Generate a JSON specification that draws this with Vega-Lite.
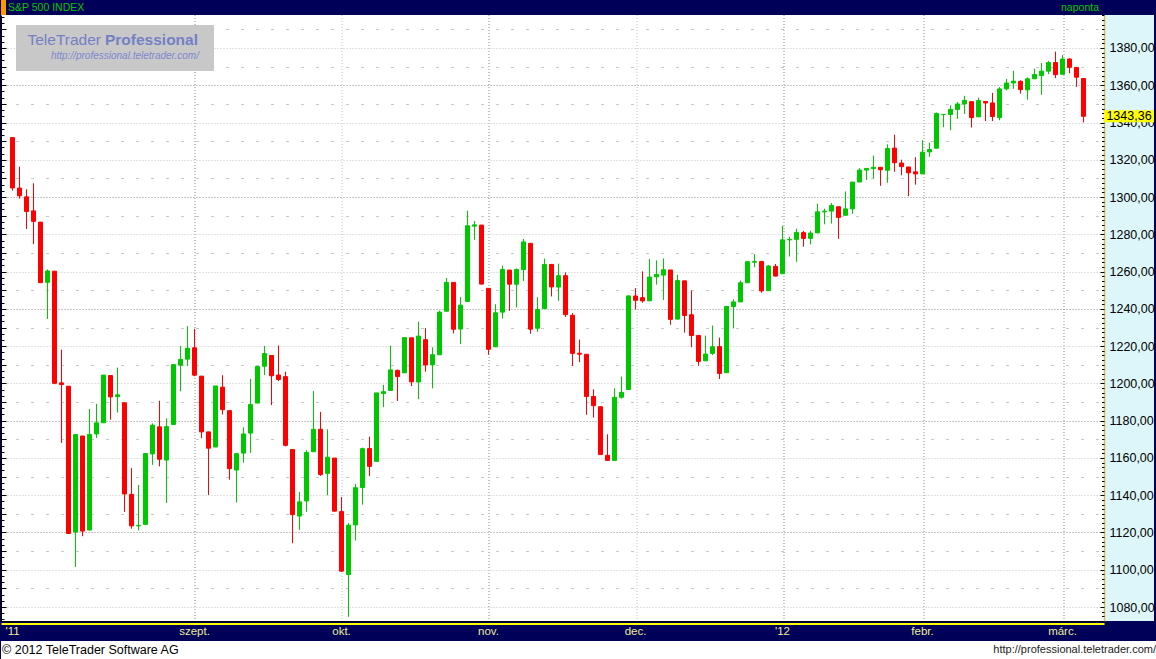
{
  "$schema": "https://vega.github.io/schema/vega-lite/v6.json",
  "usermeta": {"embedOptions": {"actions": false}},
  "background": "#000058",
  "padding": 0,
  "autosize": {"type": "pad"},
  "config": {
    "view": {"stroke": null},
    "font": "Liberation Sans",
    "locale": {"number": {"decimal": ",", "thousands": ".", "grouping": [3], "currency": ["", ""]}}
  },
  "datasets": {
    "ohlc": [
      {"i":0,"d":"2011-07-27","o":1331.91,"h":1331.91,"l":1303.49,"c":1304.89},
      {"i":1,"d":"2011-07-28","o":1304.84,"h":1316.32,"l":1299.16,"c":1300.67},
      {"i":2,"d":"2011-07-29","o":1300.12,"h":1304.16,"l":1282.86,"c":1292.28},
      {"i":3,"d":"2011-08-01","o":1292.59,"h":1307.38,"l":1274.73,"c":1286.94},
      {"i":4,"d":"2011-08-02","o":1286.56,"h":1286.58,"l":1254.03,"c":1254.05},
      {"i":5,"d":"2011-08-03","o":1254.25,"h":1261.2,"l":1234.56,"c":1260.34},
      {"i":6,"d":"2011-08-04","o":1260.23,"h":1260.23,"l":1199.54,"c":1200.07},
      {"i":7,"d":"2011-08-05","o":1200.28,"h":1218.11,"l":1168.09,"c":1199.38},
      {"i":8,"d":"2011-08-08","o":1198.48,"h":1198.48,"l":1119.28,"c":1119.46},
      {"i":9,"d":"2011-08-09","o":1120.23,"h":1172.88,"l":1101.54,"c":1172.53},
      {"i":10,"d":"2011-08-10","o":1171.77,"h":1171.77,"l":1118.01,"c":1120.76},
      {"i":11,"d":"2011-08-11","o":1121.3,"h":1186.29,"l":1121.3,"c":1172.64},
      {"i":12,"d":"2011-08-12","o":1172.87,"h":1189.04,"l":1170.74,"c":1178.81},
      {"i":13,"d":"2011-08-15","o":1178.86,"h":1204.49,"l":1178.86,"c":1204.49},
      {"i":14,"d":"2011-08-16","o":1204.22,"h":1204.22,"l":1180.53,"c":1192.76},
      {"i":15,"d":"2011-08-17","o":1192.89,"h":1208.47,"l":1184.36,"c":1193.89},
      {"i":16,"d":"2011-08-18","o":1189.62,"h":1189.62,"l":1131.03,"c":1140.65},
      {"i":17,"d":"2011-08-19","o":1140.47,"h":1154.54,"l":1122.05,"c":1123.53},
      {"i":18,"d":"2011-08-22","o":1123.55,"h":1145.49,"l":1121.09,"c":1123.82},
      {"i":19,"d":"2011-08-23","o":1124.36,"h":1162.35,"l":1124.36,"c":1162.35},
      {"i":20,"d":"2011-08-24","o":1162.16,"h":1178.56,"l":1156.3,"c":1177.6},
      {"i":21,"d":"2011-08-25","o":1176.69,"h":1190.68,"l":1155.47,"c":1159.27},
      {"i":22,"d":"2011-08-26","o":1158.85,"h":1181.23,"l":1135.91,"c":1176.8},
      {"i":23,"d":"2011-08-29","o":1177.91,"h":1210.08,"l":1177.91,"c":1210.08},
      {"i":24,"d":"2011-08-30","o":1209.76,"h":1220.1,"l":1195.77,"c":1212.92},
      {"i":25,"d":"2011-08-31","o":1213.0,"h":1230.71,"l":1209.35,"c":1218.89},
      {"i":26,"d":"2011-09-01","o":1219.12,"h":1229.29,"l":1203.85,"c":1204.42},
      {"i":27,"d":"2011-09-02","o":1203.9,"h":1203.9,"l":1170.56,"c":1173.97},
      {"i":28,"d":"2011-09-06","o":1173.97,"h":1173.97,"l":1140.13,"c":1165.24},
      {"i":29,"d":"2011-09-07","o":1165.85,"h":1198.62,"l":1165.85,"c":1198.62},
      {"i":30,"d":"2011-09-08","o":1197.98,"h":1204.4,"l":1183.34,"c":1185.9},
      {"i":31,"d":"2011-09-09","o":1185.37,"h":1185.37,"l":1148.37,"c":1154.23},
      {"i":32,"d":"2011-09-12","o":1153.5,"h":1162.52,"l":1136.07,"c":1162.27},
      {"i":33,"d":"2011-09-13","o":1162.59,"h":1176.41,"l":1157.44,"c":1172.87},
      {"i":34,"d":"2011-09-14","o":1173.32,"h":1202.38,"l":1162.73,"c":1188.68},
      {"i":35,"d":"2011-09-15","o":1189.44,"h":1209.11,"l":1189.44,"c":1209.11},
      {"i":36,"d":"2011-09-16","o":1209.21,"h":1220.06,"l":1204.46,"c":1216.01},
      {"i":37,"d":"2011-09-19","o":1214.99,"h":1214.99,"l":1188.36,"c":1204.09},
      {"i":38,"d":"2011-09-20","o":1204.5,"h":1220.39,"l":1201.29,"c":1202.09},
      {"i":39,"d":"2011-09-21","o":1203.63,"h":1206.3,"l":1166.21,"c":1166.76},
      {"i":40,"d":"2011-09-22","o":1164.55,"h":1164.55,"l":1114.22,"c":1129.56},
      {"i":41,"d":"2011-09-23","o":1128.82,"h":1141.72,"l":1121.36,"c":1136.43},
      {"i":42,"d":"2011-09-26","o":1136.91,"h":1164.19,"l":1131.07,"c":1162.95},
      {"i":43,"d":"2011-09-27","o":1163.32,"h":1195.86,"l":1163.32,"c":1175.38},
      {"i":44,"d":"2011-09-28","o":1175.39,"h":1184.71,"l":1150.4,"c":1151.06},
      {"i":45,"d":"2011-09-29","o":1151.74,"h":1175.31,"l":1139.93,"c":1160.4},
      {"i":46,"d":"2011-09-30","o":1159.93,"h":1159.93,"l":1131.34,"c":1131.42},
      {"i":47,"d":"2011-10-03","o":1131.21,"h":1138.99,"l":1098.92,"c":1099.23},
      {"i":48,"d":"2011-10-04","o":1097.42,"h":1125.12,"l":1074.77,"c":1123.95},
      {"i":49,"d":"2011-10-05","o":1124.03,"h":1146.07,"l":1115.68,"c":1144.03},
      {"i":50,"d":"2011-10-06","o":1144.11,"h":1165.55,"l":1134.95,"c":1164.97},
      {"i":51,"d":"2011-10-07","o":1165.03,"h":1171.4,"l":1150.26,"c":1155.46},
      {"i":52,"d":"2011-10-10","o":1158.15,"h":1194.91,"l":1158.15,"c":1194.89},
      {"i":53,"d":"2011-10-11","o":1194.6,"h":1199.24,"l":1187.3,"c":1195.54},
      {"i":54,"d":"2011-10-12","o":1196.19,"h":1220.25,"l":1196.19,"c":1207.25},
      {"i":55,"d":"2011-10-13","o":1206.96,"h":1207.46,"l":1190.58,"c":1203.66},
      {"i":56,"d":"2011-10-14","o":1205.65,"h":1224.61,"l":1205.65,"c":1224.58},
      {"i":57,"d":"2011-10-17","o":1224.47,"h":1224.47,"l":1198.55,"c":1200.86},
      {"i":58,"d":"2011-10-18","o":1200.75,"h":1233.1,"l":1191.48,"c":1225.38},
      {"i":59,"d":"2011-10-19","o":1223.46,"h":1229.64,"l":1206.31,"c":1209.88},
      {"i":60,"d":"2011-10-20","o":1209.92,"h":1219.36,"l":1197.34,"c":1215.39},
      {"i":61,"d":"2011-10-21","o":1215.39,"h":1239.03,"l":1215.39,"c":1238.25},
      {"i":62,"d":"2011-10-24","o":1238.72,"h":1256.55,"l":1238.72,"c":1254.19},
      {"i":63,"d":"2011-10-25","o":1254.19,"h":1254.19,"l":1226.79,"c":1229.05},
      {"i":64,"d":"2011-10-26","o":1229.17,"h":1246.28,"l":1221.06,"c":1242.0},
      {"i":65,"d":"2011-10-27","o":1243.97,"h":1292.66,"l":1243.97,"c":1284.59},
      {"i":66,"d":"2011-10-28","o":1284.39,"h":1287.08,"l":1277.01,"c":1285.09},
      {"i":67,"d":"2011-10-31","o":1284.96,"h":1284.96,"l":1253.16,"c":1253.3},
      {"i":68,"d":"2011-11-01","o":1251.0,"h":1251.0,"l":1215.42,"c":1218.28},
      {"i":69,"d":"2011-11-02","o":1219.62,"h":1242.48,"l":1219.62,"c":1237.9},
      {"i":70,"d":"2011-11-03","o":1238.25,"h":1263.21,"l":1234.81,"c":1261.15},
      {"i":71,"d":"2011-11-04","o":1260.82,"h":1260.82,"l":1238.92,"c":1253.23},
      {"i":72,"d":"2011-11-07","o":1253.21,"h":1261.7,"l":1240.75,"c":1261.12},
      {"i":73,"d":"2011-11-08","o":1261.12,"h":1277.55,"l":1254.99,"c":1275.92},
      {"i":74,"d":"2011-11-09","o":1275.18,"h":1275.18,"l":1226.64,"c":1229.1},
      {"i":75,"d":"2011-11-10","o":1229.59,"h":1246.22,"l":1227.7,"c":1239.69},
      {"i":76,"d":"2011-11-11","o":1240.12,"h":1266.98,"l":1240.12,"c":1263.85},
      {"i":77,"d":"2011-11-14","o":1263.85,"h":1263.85,"l":1246.68,"c":1251.78},
      {"i":78,"d":"2011-11-15","o":1251.7,"h":1264.25,"l":1244.34,"c":1257.81},
      {"i":79,"d":"2011-11-16","o":1257.81,"h":1259.61,"l":1235.67,"c":1236.91},
      {"i":80,"d":"2011-11-17","o":1236.56,"h":1237.73,"l":1209.43,"c":1216.13},
      {"i":81,"d":"2011-11-18","o":1216.19,"h":1223.51,"l":1211.36,"c":1215.65},
      {"i":82,"d":"2011-11-21","o":1215.62,"h":1215.62,"l":1183.16,"c":1192.98},
      {"i":83,"d":"2011-11-22","o":1192.98,"h":1196.81,"l":1181.65,"c":1188.04},
      {"i":84,"d":"2011-11-23","o":1187.48,"h":1187.48,"l":1161.79,"c":1161.79},
      {"i":85,"d":"2011-11-25","o":1161.41,"h":1172.66,"l":1158.66,"c":1158.67},
      {"i":86,"d":"2011-11-28","o":1158.67,"h":1197.35,"l":1158.67,"c":1192.55},
      {"i":87,"d":"2011-11-29","o":1192.56,"h":1203.67,"l":1191.8,"c":1195.19},
      {"i":88,"d":"2011-11-30","o":1196.72,"h":1247.11,"l":1196.72,"c":1246.96},
      {"i":89,"d":"2011-12-01","o":1246.91,"h":1251.09,"l":1239.73,"c":1244.58},
      {"i":90,"d":"2011-12-02","o":1246.03,"h":1260.08,"l":1243.35,"c":1244.28},
      {"i":91,"d":"2011-12-05","o":1244.33,"h":1266.73,"l":1244.33,"c":1257.08},
      {"i":92,"d":"2011-12-06","o":1257.19,"h":1266.03,"l":1253.03,"c":1258.47},
      {"i":93,"d":"2011-12-07","o":1258.14,"h":1267.06,"l":1244.8,"c":1261.01},
      {"i":94,"d":"2011-12-08","o":1260.87,"h":1260.87,"l":1231.47,"c":1234.35},
      {"i":95,"d":"2011-12-09","o":1234.48,"h":1258.25,"l":1234.48,"c":1255.19},
      {"i":96,"d":"2011-12-12","o":1255.05,"h":1255.05,"l":1227.25,"c":1236.47},
      {"i":97,"d":"2011-12-13","o":1236.83,"h":1249.86,"l":1219.43,"c":1225.73},
      {"i":98,"d":"2011-12-14","o":1225.73,"h":1225.73,"l":1209.47,"c":1211.82},
      {"i":99,"d":"2011-12-15","o":1212.12,"h":1225.6,"l":1212.12,"c":1215.75},
      {"i":100,"d":"2011-12-16","o":1216.09,"h":1231.04,"l":1215.2,"c":1219.66},
      {"i":101,"d":"2011-12-19","o":1219.74,"h":1224.57,"l":1202.37,"c":1205.35},
      {"i":102,"d":"2011-12-20","o":1205.72,"h":1241.59,"l":1205.72,"c":1241.3},
      {"i":103,"d":"2011-12-21","o":1241.25,"h":1245.09,"l":1229.51,"c":1243.72},
      {"i":104,"d":"2011-12-22","o":1243.72,"h":1255.22,"l":1243.72,"c":1254.0},
      {"i":105,"d":"2011-12-23","o":1254.0,"h":1265.42,"l":1254.0,"c":1265.33},
      {"i":106,"d":"2011-12-27","o":1265.02,"h":1269.37,"l":1262.3,"c":1265.43},
      {"i":107,"d":"2011-12-28","o":1265.38,"h":1265.85,"l":1248.64,"c":1249.64},
      {"i":108,"d":"2011-12-29","o":1249.75,"h":1263.54,"l":1249.75,"c":1263.02},
      {"i":109,"d":"2011-12-30","o":1262.82,"h":1264.12,"l":1257.46,"c":1257.6},
      {"i":110,"d":"2012-01-03","o":1258.86,"h":1284.62,"l":1258.86,"c":1277.06},
      {"i":111,"d":"2012-01-04","o":1277.03,"h":1278.73,"l":1268.1,"c":1277.3},
      {"i":112,"d":"2012-01-05","o":1277.3,"h":1283.05,"l":1265.26,"c":1281.06},
      {"i":113,"d":"2012-01-06","o":1280.93,"h":1281.84,"l":1273.34,"c":1277.81},
      {"i":114,"d":"2012-01-09","o":1277.83,"h":1281.99,"l":1274.55,"c":1280.7},
      {"i":115,"d":"2012-01-10","o":1280.77,"h":1296.46,"l":1280.77,"c":1292.08},
      {"i":116,"d":"2012-01-11","o":1292.02,"h":1293.8,"l":1285.41,"c":1292.48},
      {"i":117,"d":"2012-01-12","o":1292.48,"h":1296.82,"l":1285.77,"c":1295.5},
      {"i":118,"d":"2012-01-13","o":1294.82,"h":1294.82,"l":1277.58,"c":1289.09},
      {"i":119,"d":"2012-01-17","o":1290.22,"h":1303.0,"l":1290.22,"c":1293.67},
      {"i":120,"d":"2012-01-18","o":1293.65,"h":1308.11,"l":1290.99,"c":1308.04},
      {"i":121,"d":"2012-01-19","o":1308.07,"h":1315.49,"l":1308.07,"c":1314.5},
      {"i":122,"d":"2012-01-20","o":1314.49,"h":1315.38,"l":1309.17,"c":1315.38},
      {"i":123,"d":"2012-01-23","o":1315.29,"h":1322.28,"l":1309.89,"c":1316.0},
      {"i":124,"d":"2012-01-24","o":1315.96,"h":1315.96,"l":1306.06,"c":1314.65},
      {"i":125,"d":"2012-01-25","o":1314.4,"h":1328.3,"l":1307.65,"c":1326.06},
      {"i":126,"d":"2012-01-26","o":1326.28,"h":1333.47,"l":1313.6,"c":1318.43},
      {"i":127,"d":"2012-01-27","o":1318.25,"h":1320.06,"l":1311.72,"c":1316.33},
      {"i":128,"d":"2012-01-30","o":1316.16,"h":1316.16,"l":1300.49,"c":1313.01},
      {"i":129,"d":"2012-01-31","o":1313.53,"h":1321.41,"l":1306.69,"c":1312.41},
      {"i":130,"d":"2012-02-01","o":1312.45,"h":1330.52,"l":1312.45,"c":1324.09},
      {"i":131,"d":"2012-02-02","o":1324.24,"h":1329.19,"l":1321.57,"c":1325.54},
      {"i":132,"d":"2012-02-03","o":1326.21,"h":1345.34,"l":1326.21,"c":1344.9},
      {"i":133,"d":"2012-02-06","o":1344.32,"h":1344.36,"l":1337.52,"c":1344.33},
      {"i":134,"d":"2012-02-07","o":1344.33,"h":1349.24,"l":1335.92,"c":1347.05},
      {"i":135,"d":"2012-02-08","o":1347.04,"h":1351.0,"l":1341.95,"c":1349.96},
      {"i":136,"d":"2012-02-09","o":1349.97,"h":1354.32,"l":1344.63,"c":1351.95},
      {"i":137,"d":"2012-02-10","o":1351.21,"h":1351.21,"l":1337.35,"c":1342.64},
      {"i":138,"d":"2012-02-13","o":1343.06,"h":1353.35,"l":1343.06,"c":1351.77},
      {"i":139,"d":"2012-02-14","o":1351.3,"h":1351.3,"l":1340.83,"c":1350.5},
      {"i":140,"d":"2012-02-15","o":1350.52,"h":1355.87,"l":1340.8,"c":1343.23},
      {"i":141,"d":"2012-02-16","o":1342.61,"h":1359.02,"l":1341.22,"c":1358.04},
      {"i":142,"d":"2012-02-17","o":1358.06,"h":1363.4,"l":1357.24,"c":1361.23},
      {"i":143,"d":"2012-02-21","o":1361.22,"h":1367.76,"l":1358.11,"c":1362.21},
      {"i":144,"d":"2012-02-22","o":1362.11,"h":1362.7,"l":1355.53,"c":1357.66},
      {"i":145,"d":"2012-02-23","o":1357.53,"h":1364.24,"l":1352.28,"c":1363.46},
      {"i":146,"d":"2012-02-24","o":1363.46,"h":1368.92,"l":1363.46,"c":1365.74},
      {"i":147,"d":"2012-02-27","o":1365.2,"h":1371.94,"l":1354.92,"c":1367.59},
      {"i":148,"d":"2012-02-28","o":1367.56,"h":1373.09,"l":1365.97,"c":1372.18},
      {"i":149,"d":"2012-02-29","o":1372.2,"h":1378.04,"l":1363.81,"c":1365.68},
      {"i":150,"d":"2012-03-01","o":1365.9,"h":1376.17,"l":1365.9,"c":1374.09},
      {"i":151,"d":"2012-03-02","o":1374.09,"h":1374.53,"l":1366.42,"c":1369.63},
      {"i":152,"d":"2012-03-05","o":1369.59,"h":1369.59,"l":1359.13,"c":1364.33},
      {"i":153,"d":"2012-03-06","o":1363.63,"h":1363.63,"l":1340.03,"c":1343.36}
    ],
    "months": [
      {"i":0,"m":"'11"},{"i":26,"m":"szept."},{"i":47,"m":"okt."},{"i":68,"m":"nov."},
      {"i":89,"m":"dec."},{"i":110,"m":"'12"},{"i":130,"m":"febr."},{"i":150,"m":"márc."}
    ]
  },
  "columns": 2,
  "spacing": 0,
  "bounds": "flush",
  "align": "each",
  "concat": [
    {
      "width": 1103, "height": 15,
      "layer": [
        {
          "data": {"values": [{"t": "S&P 500 INDEX"}]},
          "mark": {"type": "text", "align": "left", "baseline": "middle", "dx": 7, "fontSize": 10.5, "color": "#00c800"},
          "encoding": {
            "x": {"datum": 0, "type": "quantitative", "scale": {"domain": [0, 1], "nice": false, "zero": false}, "axis": null},
            "y": {"datum": 0, "type": "quantitative", "scale": {"domain": [-1, 1], "nice": false},
                  "axis": {"orient": "left", "domain": true, "domainColor": "#ff9900", "domainWidth": 5, "offset": -2.5, "translate": 0, "ticks": false, "labels": false, "grid": false, "title": null}},
            "text": {"field": "t"}
          }
        },
        {
          "data": {"values": [{"t": "naponta"}]},
          "mark": {"type": "text", "align": "right", "baseline": "middle", "dx": -5, "fontSize": 10.5, "color": "#00c800"},
          "encoding": {
            "x": {"datum": 1, "type": "quantitative", "axis": null},
            "y": {"datum": 0, "type": "quantitative", "axis": null},
            "text": {"field": "t"}
          }
        }
      ],
      "resolve": {"axis": {"y": "independent"}}
    },
    {
      "width": 53, "height": 15,
      "data": {"values": [{"t": ""}]},
      "mark": {"type": "text"},
      "encoding": {
        "x": {"datum": 0, "type": "quantitative", "scale": {"domain": [0, 1]}, "axis": null},
        "y": {"datum": 0, "type": "quantitative", "scale": {"domain": [0, 1]}, "axis": null},
        "text": {"field": "t"}
      }
    },
    {
      "width": 1103, "height": 606,
      "view": {"fill": "white"},
      "layer": [
        {
          "data": {"values": [{"x1": 0.5, "x2": 28.79, "y1": 1392.34, "y2": 1367.66}]},
          "mark": {"type": "rect", "fill": "#c8c8c8"},
          "encoding": {
            "x": {"field": "x1", "type": "quantitative", "scale": {"domain": [-1.642857, 155.928571], "nice": false, "zero": false, "padding": 0}, "axis": null},
            "x2": {"field": "x2"},
            "y": {"field": "y1", "type": "quantitative", "scale": {"domain": [1072.487, 1397.71], "nice": false, "zero": false, "padding": 0}, "axis": null},
            "y2": {"field": "y2"}
          }
        },
        {
          "data": {"values": [{"t": "TeleTrader", "i": 12.64, "p": 1384.3}]},
          "mark": {"type": "text", "align": "right", "baseline": "middle", "fontSize": 15.5, "color": "#7480c4"},
          "encoding": {
            "x": {"field": "i", "type": "quantitative", "axis": null},
            "y": {"field": "p", "type": "quantitative",
                  "axis": {"orient": "left", "values": [1080,1090,1100,1110,1120,1130,1140,1150,1160,1170,1180,1190,1200,1210,1220,1230,1240,1250,1260,1270,1280,1290,1300,1310,1320,1330,1340,1350,1360,1370,1380,1390],
                           "domain": false, "ticks": true, "tickSize": -5, "tickColor": "black", "labels": false, "grid": false, "title": null}},
            "text": {"field": "t"}
          }
        },
        {
          "data": {"values": [{"t": "Professional", "i": 13.21, "p": 1384.3}]},
          "mark": {"type": "text", "align": "left", "baseline": "middle", "fontSize": 15.5, "fontWeight": "bold", "color": "#7480c4"},
          "encoding": {
            "x": {"field": "i", "type": "quantitative", "axis": null},
            "y": {"field": "p", "type": "quantitative",
                  "axis": {"orient": "left", "values": [1073.33,1076.67,1080,1083.33,1086.67,1090,1093.33,1096.67,1100,1103.33,1106.67,1110,1113.33,1116.67,1120,1123.33,1126.67,1130,1133.33,1136.67,1140,1143.33,1146.67,1150,1153.33,1156.67,1160,1163.33,1166.67,1170,1173.33,1176.67,1180,1183.33,1186.67,1190,1193.33,1196.67,1200,1203.33,1206.67,1210,1213.33,1216.67,1220,1223.33,1226.67,1230,1233.33,1236.67,1240,1243.33,1246.67,1250,1253.33,1256.67,1260,1263.33,1266.67,1270,1273.33,1276.67,1280,1283.33,1286.67,1290,1293.33,1296.67,1300,1303.33,1306.67,1310,1313.33,1316.67,1320,1323.33,1326.67,1330,1333.33,1336.67,1340,1343.33,1346.67,1350,1353.33,1356.67,1360,1363.33,1366.67,1370,1373.33,1376.67,1380,1383.33,1386.67,1390,1393.33,1396.67],
                           "domain": true, "domainColor": "black", "domainWidth": 1, "ticks": true, "tickSize": -3, "tickColor": "black", "labels": false, "grid": false, "title": null}},
            "text": {"field": "t"}
          }
        },
        {
          "data": {"values": [{"t": "http://professional.teletrader.com/", "i": 26.64, "p": 1375.7}]},
          "mark": {"type": "text", "align": "right", "baseline": "middle", "fontSize": 10, "fontStyle": "italic", "color": "#7c88cc"},
          "encoding": {
            "x": {"field": "i", "type": "quantitative", "axis": null},
            "y": {"field": "p", "type": "quantitative", "axis": null},
            "text": {"field": "t"}
          }
        },
        {
          "data": {"name": "ohlc"},
          "mark": {"type": "rule", "strokeWidth": 1},
          "encoding": {
            "x": {"field": "i", "type": "quantitative", "scale": {"domain": [-1.642857, 155.928571], "nice": false, "zero": false, "padding": 0},
                  "axis": {"orient": "bottom", "values": [26.142857, 47.142857, 68.142857, 89.142857, 110.142857, 130.142857, 150.142857],
                           "translate": 0, "offset": 0.5, "grid": true, "gridDash": [1, 2],
                           "gridColor": {"condition": {"test": "floor(datum.value) == 47 || floor(datum.value) == 89", "value": "#c4c4c4"}, "value": "#8c8c8c"},
                           "domain": true, "domainColor": "black", "domainWidth": 1, "ticks": false, "labels": false, "title": null}},
            "y": {"field": "l", "type": "quantitative", "scale": {"domain": [1072.487, 1397.71], "nice": false, "zero": false, "padding": 0},
                  "axis": {"orient": "left", "values": [1080,1100,1120,1140,1160,1180,1200,1220,1240,1260,1280,1300,1320,1340,1360,1380],
                           "grid": true, "gridDash": [1, 2],
                           "gridColor": {"condition": {"test": "datum.value % 60 == 40", "value": "#8c8c8c"}, "value": "#c4c4c4"},
                           "domain": false, "ticks": false, "labels": false, "title": null}},
            "y2": {"field": "h"},
            "color": {"condition": {"test": "datum.c >= datum.o", "value": "#00c800"}, "value": "#ff0000"}
          }
        },
        {
          "data": {"name": "ohlc"},
          "mark": {"type": "bar", "width": 4, "strokeWidth": 1},
          "encoding": {
            "x": {"field": "i", "type": "quantitative", "axis": null},
            "y": {"field": "o", "type": "quantitative",
                  "axis": {"orient": "left", "values": [1090,1110,1130,1150,1170,1190,1210,1230,1250,1270,1290,1310,1330,1350,1370,1390],
                           "grid": true, "gridDash": [3, 12], "gridDashOffset": 0.5, "gridColor": "#c8c8c8",
                           "domain": false, "ticks": false, "labels": false, "title": null}},
            "y2": {"field": "c"},
            "fill": {"condition": {"test": "datum.c >= datum.o", "value": "#00c800"}, "value": "#ff0000"},
            "stroke": {"condition": {"test": "datum.c >= datum.o", "value": "#00c800"}, "value": "#ff0000"}
          }
        }
      ],
      "resolve": {"axis": {"x": "independent", "y": "independent"}}
    },
    {
      "width": 50, "height": 606,
      "view": {"fill": "#ddf6fa"},
      "data": {"name": "ohlc"},
      "transform": [{"filter": "datum.i == 153"}],
      "layer": [
        {
          "mark": {"type": "tick", "orient": "horizontal", "thickness": 12, "size": 50, "color": "#ffff00", "opacity": 1},
          "encoding": {
            "x": {"datum": 0.5, "type": "quantitative", "scale": {"domain": [0, 1], "nice": false, "zero": false, "padding": 0}, "axis": null},
            "y": {"field": "c", "type": "quantitative", "scale": {"domain": [1072.487, 1397.71], "nice": false, "zero": false, "padding": 0},
                  "axis": {"orient": "left", "values": [1080,1100,1120,1140,1160,1180,1200,1220,1240,1260,1280,1300,1320,1340,1360,1380],
                           "format": ".2f", "labelAlign": "left", "labelBaseline": "middle", "labelPadding": -9, "labelFontSize": 12.5, "labelColor": "black",
                           "labelOverlap": false, "labelFlush": false,
                           "ticks": true, "tickSize": 4, "tickColor": "black",
                           "domain": true, "domainColor": "#d8b860", "domainWidth": 1.5, "grid": false, "title": null}}
          }
        },
        {
          "mark": {"type": "text", "fontSize": 12.5, "color": "black", "baseline": "middle", "align": "center"},
          "encoding": {
            "x": {"datum": 0.5, "type": "quantitative", "axis": null},
            "y": {"field": "c", "type": "quantitative",
                  "axis": {"orient": "left", "values": [1072.5,1075,1077.5,1080,1082.5,1085,1087.5,1090,1092.5,1095,1097.5,1100,1102.5,1105,1107.5,1110,1112.5,1115,1117.5,1120,1122.5,1125,1127.5,1130,1132.5,1135,1137.5,1140,1142.5,1145,1147.5,1150,1152.5,1155,1157.5,1160,1162.5,1165,1167.5,1170,1172.5,1175,1177.5,1180,1182.5,1185,1187.5,1190,1192.5,1195,1197.5,1200,1202.5,1205,1207.5,1210,1212.5,1215,1217.5,1220,1222.5,1225,1227.5,1230,1232.5,1235,1237.5,1240,1242.5,1245,1247.5,1250,1252.5,1255,1257.5,1260,1262.5,1265,1267.5,1270,1272.5,1275,1277.5,1280,1282.5,1285,1287.5,1290,1292.5,1295,1297.5,1300,1302.5,1305,1307.5,1310,1312.5,1315,1317.5,1320,1322.5,1325,1327.5,1330,1332.5,1335,1337.5,1340,1342.5,1345,1347.5,1350,1352.5,1355,1357.5,1360,1362.5,1365,1367.5,1370,1372.5,1375,1377.5,1380,1382.5,1385,1387.5,1390,1392.5,1395,1397.5],
                           "ticks": true, "tickSize": 2.5, "tickColor": "black", "labels": false, "domain": false, "grid": false, "title": null}},
            "text": {"field": "c", "type": "quantitative", "format": ".2f"}
          }
        }
      ],
      "resolve": {"axis": {"y": "independent"}}
    },
    {
      "width": 1103, "height": 20,
      "data": {"name": "months"},
      "mark": {"type": "text", "color": "#eeee99", "fontSize": 11.5, "baseline": "middle", "dy": 1},
      "encoding": {
        "x": {"field": "i", "type": "quantitative", "scale": {"domain": [-1.642857, 155.928571], "nice": false, "zero": false, "padding": 0},
              "axis": {"orient": "top", "domain": true, "domainColor": "#ffff00", "domainWidth": 2, "offset": -2.5, "ticks": false, "labels": false, "grid": false, "title": null}},
        "y": {"datum": 0, "type": "quantitative", "scale": {"domain": [-1, 1]}, "axis": null},
        "text": {"field": "m"}
      }
    },
    {
      "width": 53, "height": 20,
      "data": {"values": [{"t": ""}]},
      "mark": {"type": "text"},
      "encoding": {
        "x": {"datum": 0, "type": "quantitative", "scale": {"domain": [0, 1]}, "axis": null},
        "y": {"datum": 0, "type": "quantitative", "scale": {"domain": [0, 1]}, "axis": null},
        "text": {"field": "t"}
      }
    },
    {
      "width": 1103, "height": 18,
      "view": {"fill": "white"},
      "data": {"values": [{"t": "© 2012 TeleTrader Software AG"}]},
      "mark": {"type": "text", "align": "left", "baseline": "middle", "dx": 1, "fontSize": 12.5, "color": "black"},
      "encoding": {
        "x": {"datum": 0, "type": "quantitative", "scale": {"domain": [0, 1], "nice": false, "zero": false}, "axis": null},
        "y": {"datum": 0, "type": "quantitative", "scale": {"domain": [-1, 1]}, "axis": null},
        "text": {"field": "t"}
      }
    },
    {
      "width": 53, "height": 18,
      "view": {"fill": "white"},
      "data": {"values": [{"t": "http://professional.teletrader.com/"}]},
      "mark": {"type": "text", "align": "right", "baseline": "middle", "dx": -1, "fontSize": 11, "color": "#222222"},
      "encoding": {
        "x": {"datum": 1, "type": "quantitative", "scale": {"domain": [0, 1], "nice": false, "zero": false}, "axis": null},
        "y": {"datum": 0, "type": "quantitative", "scale": {"domain": [-1, 1]}, "axis": null},
        "text": {"field": "t"}
      }
    }
  ]
}
